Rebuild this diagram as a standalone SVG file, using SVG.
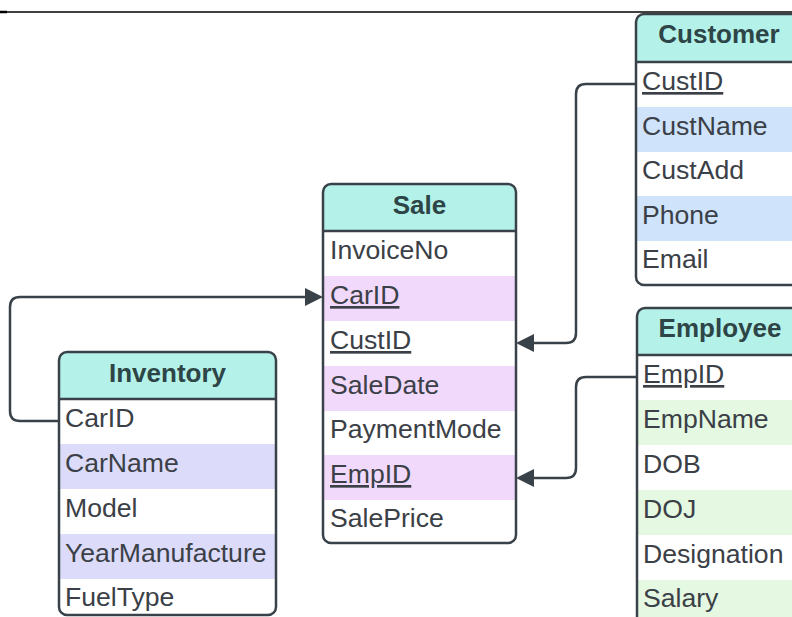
<svg xmlns="http://www.w3.org/2000/svg" width="792" height="617" viewBox="0 0 792 617">
<style>
.box{fill:none;stroke:#3a4249;stroke-width:2.5}
.bg{fill:#ffffff}
.hdr{fill:#b4f1e9}
.sep{stroke:#3a4249;stroke-width:2.5}
.ht{font-family:"Liberation Sans",Arial,sans-serif;font-weight:bold;font-size:26px;fill:#2d4546;text-anchor:middle}
.ft{font-family:"Liberation Sans",Arial,sans-serif;font-size:26.6px;fill:#3b4047}
.u{text-decoration:underline}
.pu{fill:#f0d9fa}
.lv{fill:#dcdcfa}
.bl{fill:#cfe3fb}
.gr{fill:#e4f8e2}
.con{fill:none;stroke:#3a4249;stroke-width:2.5}
.arr{fill:#3a4249}
</style>
<rect width="792" height="617" fill="#ffffff"/>
<line x1="0" y1="12" x2="792" y2="12" stroke="#000" stroke-width="1.5"/>
<line x1="0" y1="12" x2="7" y2="12" stroke="#000" stroke-width="2.5"/>

<g id="connectors">
<path class="con" d="M59,421 H20 Q10,421 10,411 V307 Q10,297 20,297 H306"/>
<polygon class="arr" points="323,297 305,288 305,306"/>
<path class="con" d="M636,84 H586 Q576,84 576,94 V333 Q576,343 566,343 H533"/>
<polygon class="arr" points="516,343 534,334 534,352"/>
<path class="con" d="M637,377 H586 Q576,377 576,387 V468 Q576,478 566,478 H533"/>
<polygon class="arr" points="516,478 534,469 534,487"/>
</g>

<g id="sale">
<rect class="bg" x="323" y="184" width="193" height="359" rx="8"/>
<rect class="pu" x="323" y="276" width="193" height="45"/>
<rect class="pu" x="323" y="366" width="193" height="45"/>
<rect class="pu" x="323" y="455" width="193" height="45"/>
<path class="hdr" d="M323,231 V192 Q323,184 331,184 H508 Q516,184 516,192 V231 Z"/>
<line class="sep" x1="323" y1="231" x2="516" y2="231"/>
<rect class="box" x="323" y="184" width="193" height="359" rx="8"/>
<text class="ht" x="419.5" y="214">Sale</text>
<text class="ft" x="330" y="259">InvoiceNo</text>
<text class="ft u" x="330" y="304">CarID</text>
<text class="ft u" x="330" y="349">CustID</text>
<text class="ft" x="330" y="394">SaleDate</text>
<text class="ft" x="330" y="438">PaymentMode</text>
<text class="ft u" x="330" y="483">EmpID</text>
<text class="ft" x="330" y="527">SalePrice</text>
</g>

<g id="inventory">
<rect class="bg" x="59" y="352" width="217" height="263" rx="8"/>
<rect class="lv" x="59" y="444" width="217" height="45"/>
<rect class="lv" x="59" y="534" width="217" height="45"/>
<path class="hdr" d="M59,399 V360 Q59,352 67,352 H268 Q276,352 276,360 V399 Z"/>
<line class="sep" x1="59" y1="399" x2="276" y2="399"/>
<rect class="box" x="59" y="352" width="217" height="263" rx="8"/>
<text class="ht" x="167.5" y="382">Inventory</text>
<text class="ft" x="65" y="427">CarID</text>
<text class="ft" x="65" y="472">CarName</text>
<text class="ft" x="65" y="517">Model</text>
<text class="ft" x="65" y="562">YearManufacture</text>
<text class="ft" x="65" y="606">FuelType</text>
</g>

<g id="customer">
<rect class="bg" x="636" y="14" width="170" height="271" rx="8"/>
<rect class="bl" x="636" y="107" width="170" height="45"/>
<rect class="bl" x="636" y="196" width="170" height="45"/>
<path class="hdr" d="M636,62 V22 Q636,14 644,14 H806 V62 Z"/>
<line class="sep" x1="636" y1="62" x2="806" y2="62"/>
<rect class="box" x="636" y="14" width="170" height="271" rx="8"/>
<text class="ht" x="719" y="43">Customer</text>
<text class="ft u" x="642" y="90">CustID</text>
<text class="ft" x="642" y="135">CustName</text>
<text class="ft" x="642" y="179">CustAdd</text>
<text class="ft" x="642" y="224">Phone</text>
<text class="ft" x="642" y="268">Email</text>
</g>

<g id="employee">
<rect class="bg" x="637" y="308" width="170" height="330" rx="8"/>
<rect class="gr" x="637" y="400" width="170" height="45"/>
<rect class="gr" x="637" y="490" width="170" height="45"/>
<rect class="gr" x="637" y="580" width="170" height="58"/>
<path class="hdr" d="M637,355 V316 Q637,308 645,308 H807 V355 Z"/>
<line class="sep" x1="637" y1="355" x2="807" y2="355"/>
<rect class="box" x="637" y="308" width="170" height="330" rx="8"/>
<text class="ht" x="720" y="337">Employee</text>
<text class="ft u" x="643" y="383">EmpID</text>
<text class="ft" x="643" y="428">EmpName</text>
<text class="ft" x="643" y="473">DOB</text>
<text class="ft" x="643" y="518">DOJ</text>
<text class="ft" x="643" y="563">Designation</text>
<text class="ft" x="643" y="607">Salary</text>
</g>
</svg>
